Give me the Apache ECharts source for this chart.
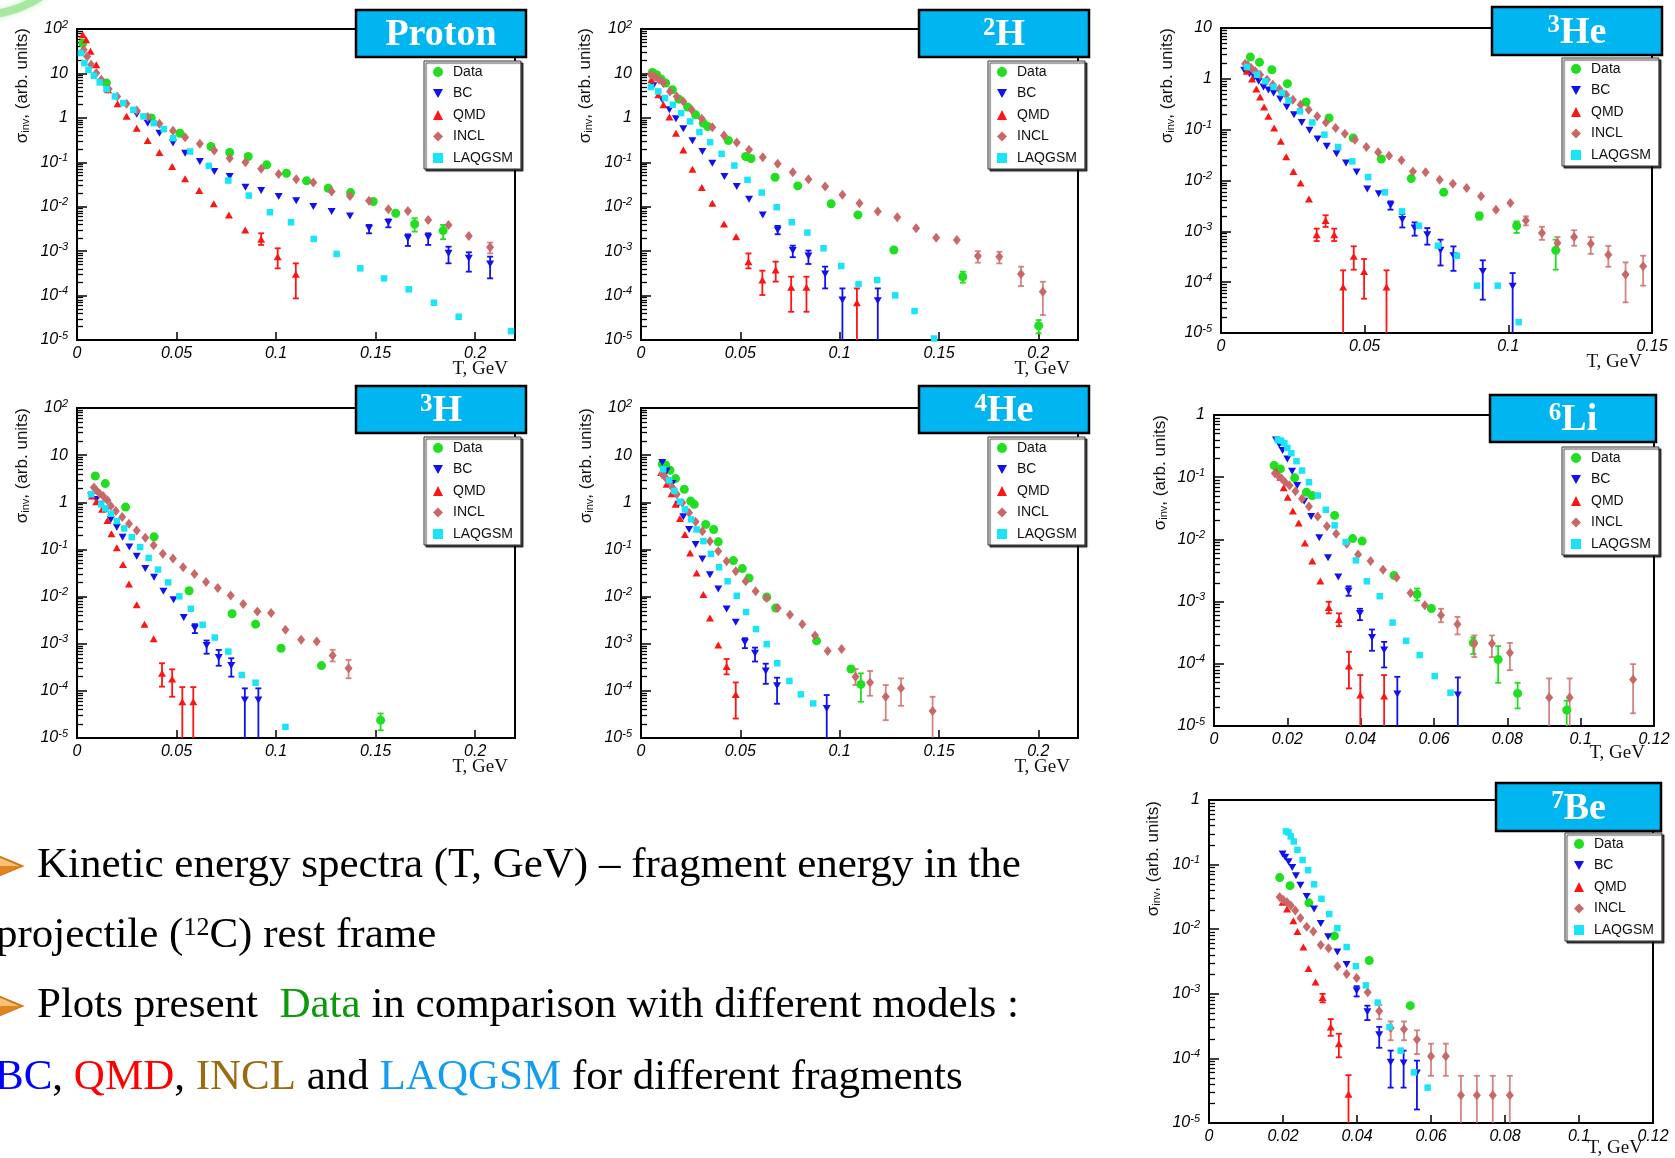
<!DOCTYPE html>
<html>
<head>
<meta charset="utf-8">
<script src="https://cdn.jsdelivr.net/npm/echarts@6/dist/echarts.min.js"></script>
<style>
  html, body { margin: 0; padding: 0; background: #ffffff; }
  #chart { width: 1675px; height: 1158px; }
</style>
</head>
<body>
<div id="chart"></div>
<script>
// Invariant cross sections vs kinetic energy T (GeV) of 12C fragments.
// Each point is [T, sigma]; each error entry is [T, lower, upper].

const SERIES_NAMES = ['Data', 'BC', 'QMD', 'INCL', 'LAQGSM'];

// ---- Proton ----
const PROTON_DATA = [[0.0029,48],[0.0148,6.1],[0.0373,0.99],[0.0517,0.45],[0.0673,0.226],[0.0767,0.166],[0.086,0.135],[0.0953,0.0875],[0.1052,0.0568],[0.1153,0.0382],[0.1262,0.0261],[0.1374,0.0208],[0.1488,0.0131],[0.1601,0.00713],[0.1696,0.00409],[0.1839,0.0029]];
const PROTON_DATA_ERR = [[0.1696,0.00275,0.0055],[0.1839,0.00185,0.00389]];
const PROTON_BC = [[0.03,1.21],[0.0355,0.76],[0.0414,0.45],[0.0482,0.27],[0.0543,0.16],[0.0617,0.104],[0.069,0.062],[0.0767,0.0478],[0.0846,0.0275],[0.0925,0.0231],[0.1013,0.0169],[0.1101,0.0137],[0.1187,0.0101],[0.1279,0.00777],[0.1371,0.0062],[0.1467,0.00327],[0.1564,0.00439],[0.1662,0.00195],[0.1764,0.00205],[0.1866,0.000894],[0.1968,0.00069],[0.2075,0.000514]];
const PROTON_BC_ERR = [[0.1467,0.00252,0.00389],[0.1564,0.00344,0.00521],[0.1662,0.00131,0.00239],[0.1764,0.00138,0.00252],[0.1866,0.000532,0.00126],[0.1968,0.000345,0.000942],[0.2075,0.000244,0.000752]];
const PROTON_QMD = [[0.0029,74.5],[0.0046,57.5],[0.0068,31.4],[0.0097,15.7],[0.0156,4.29],[0.0204,2.08],[0.0249,1.08],[0.03,0.587],[0.0355,0.31],[0.0414,0.166],[0.0478,0.0803],[0.0543,0.0424],[0.0614,0.0231],[0.0687,0.0116],[0.0763,0.00653],[0.0845,0.003],[0.0925,0.00185],[0.1008,0.000752],[0.1099,0.0003]];
const PROTON_QMD_ERR = [[0.0925,0.00138,0.00252],[0.1008,0.00041,0.00116],[0.1099,0.0000865,0.000532]];
const PROTON_INCL = [[0.0034,34.2],[0.0051,24.2],[0.0071,15.7],[0.0097,10.2],[0.0122,7.21],[0.0159,4.44],[0.0202,3.04],[0.0249,2.08],[0.03,1.47],[0.0355,1.04],[0.0414,0.734],[0.0482,0.511],[0.0543,0.368],[0.0617,0.26],[0.0689,0.184],[0.0767,0.124],[0.0846,0.1],[0.0925,0.0711],[0.1013,0.0548],[0.1101,0.0416],[0.1187,0.035],[0.1279,0.0219],[0.1371,0.0175],[0.1467,0.0137],[0.1564,0.00877],[0.1662,0.00804],[0.1764,0.00504],[0.1866,0.00389],[0.1968,0.0022],[0.2075,0.00122]];
const PROTON_INCL_ERR = [[0.2075,0.00089,0.00156]];
const PROTON_LAQGSM = [[0.002,28.8],[0.0037,17.1],[0.0058,12.1],[0.0085,8.87],[0.0114,6.28],[0.0148,4.44],[0.019,3.04],[0.0232,2.15],[0.0283,1.52],[0.0334,1.08],[0.0385,0.76],[0.0436,0.557],[0.0483,0.349],[0.0568,0.175],[0.0662,0.0832],[0.076,0.0388],[0.0863,0.0178],[0.0969,0.0075],[0.1075,0.00447],[0.1189,0.00188],[0.1304,0.000863],[0.1423,0.00041],[0.1542,0.000244],[0.1666,0.000138],[0.1793,0.000069],[0.1917,0.0000334],[0.218,0.0000158]];

// ---- 2H ----
const H2_DATA = [[0.0057,10.5],[0.0079,9.35],[0.0101,7.47],[0.0124,6.07],[0.0158,4.29],[0.0191,2.64],[0.0235,1.75],[0.0275,1.17],[0.0314,0.76],[0.0336,0.64],[0.044,0.31],[0.0527,0.135],[0.0554,0.122],[0.0675,0.0461],[0.0789,0.0294],[0.0957,0.0116],[0.1092,0.00653],[0.1273,0.00106],[0.162,0.000266],[0.2002,0.0000209]];
const H2_DATA_ERR = [[0.162,0.000195,0.000345],[0.2002,0.0000141,0.0000281]];
const H2_BC = [[0.0062,5.28],[0.0107,2.55],[0.0143,1.52],[0.0176,0.953],[0.0213,0.567],[0.0259,0.304],[0.0309,0.175],[0.0359,0.0955],[0.042,0.0478],[0.0482,0.0284],[0.0544,0.0147],[0.0613,0.00653],[0.0688,0.003],[0.0764,0.00103],[0.0843,0.000778],[0.0927,0.000305],[0.1014,0.0000793],[0.1192,0.0000766]];
const H2_BC_ERR = [[0.0688,0.0024,0.0037],[0.0764,0.00073,0.00133],[0.0843,0.000514,0.00103],[0.0927,0.000145,0.000448],[0.1014,0.000001,0.000145],[0.1192,0.000001,0.000145]];
const H2_QMD = [[0.0052,7.2],[0.0087,3.3],[0.0113,1.97],[0.0143,1.04],[0.0176,0.453],[0.0213,0.19],[0.0259,0.0698],[0.0306,0.027],[0.0359,0.012],[0.0418,0.00409],[0.0479,0.00212],[0.0541,0.00058],[0.0611,0.000224],[0.0678,0.000376],[0.0756,0.000153],[0.0833,0.000153],[0.1087,0.0000691]];
const H2_QMD_ERR = [[0.0541,0.00041,0.00089],[0.0611,0.000103,0.000363],[0.0678,0.000206,0.00058],[0.0756,0.0000432,0.000266],[0.0833,0.0000432,0.000266],[0.1087,0.000001,0.000145]];
const H2_INCL = [[0.005,9.35],[0.0071,8.28],[0.0091,7.21],[0.0113,6.07],[0.0146,3.94],[0.018,3.04],[0.0213,2.34],[0.0255,1.52],[0.0306,0.953],[0.0359,0.618],[0.0418,0.401],[0.0482,0.279],[0.0544,0.191],[0.0613,0.13],[0.0688,0.0923],[0.0764,0.0598],[0.0843,0.0416],[0.0927,0.0284],[0.1014,0.0185],[0.11,0.012],[0.1192,0.00777],[0.129,0.00579],[0.1385,0.00327],[0.1486,0.00201],[0.159,0.00179],[0.1696,0.000778],[0.1804,0.000752],[0.1913,0.000305],[0.2023,0.000122]];
const H2_INCL_ERR = [[0.1696,0.00055,0.001],[0.1804,0.00053,0.00097],[0.1913,0.000164,0.000448],[0.2023,0.0000364,0.000205]];
const H2_LAQGSM = [[0.005,4.93],[0.0087,3.94],[0.0121,2.79],[0.016,1.97],[0.0202,1.28],[0.0247,0.83],[0.0294,0.477],[0.0348,0.284],[0.0406,0.155],[0.047,0.0845],[0.0536,0.0402],[0.0608,0.0208],[0.0683,0.00973],[0.0759,0.00447],[0.0838,0.00261],[0.0919,0.00116],[0.1008,0.000463],[0.1095,0.000182],[0.1189,0.000224],[0.128,0.000101],[0.1377,0.0000448],[0.1476,0.0000108]];

// ---- 3He ----
const HE3_DATA = [[0.0102,2.69],[0.0134,2.11],[0.0177,1.51],[0.0231,0.803],[0.0296,0.35],[0.0376,0.17],[0.046,0.0686],[0.0558,0.0265],[0.0662,0.0109],[0.0775,0.00585],[0.0899,0.00203],[0.1029,0.00129],[0.1165,0.000423]];
const HE3_DATA_ERR = [[0.0899,0.0017,0.0023],[0.1029,0.00093,0.00157],[0.1165,0.000176,0.000686]];
const HE3_BC = [[0.0081,1.47],[0.0099,1.26],[0.0116,1.09],[0.0131,0.893],[0.0148,0.69],[0.0165,0.6],[0.0183,0.526],[0.0206,0.401],[0.0229,0.279],[0.0254,0.197],[0.0281,0.139],[0.0308,0.097],[0.0336,0.0655],[0.0368,0.047],[0.0402,0.0337],[0.0435,0.0221],[0.0472,0.0147],[0.0509,0.0068],[0.0549,0.0055],[0.059,0.00325],[0.0631,0.0017],[0.0674,0.00116],[0.0718,0.00086],[0.0764,0.000423],[0.0809,0.000332],[0.0911,0.000163],[0.1015,0.0000828]];
const HE3_BC_ERR = [[0.059,0.00267,0.00389],[0.0631,0.00119,0.00218],[0.0674,0.000822,0.0015],[0.0718,0.000547,0.00116],[0.0764,0.000213,0.000686],[0.0809,0.000167,0.000505],[0.0911,0.0000453,0.000269],[0.1015,0.000001,0.000151]];
const HE3_QMD = [[0.009,1.41],[0.0108,0.99],[0.0123,0.631],[0.0136,0.44],[0.015,0.28],[0.0165,0.183],[0.0185,0.108],[0.0208,0.0589],[0.0227,0.0292],[0.0252,0.0151],[0.0277,0.00893],[0.0306,0.00433],[0.0333,0.00086],[0.0364,0.00164],[0.0394,0.00086],[0.0425,0.0000803],[0.0462,0.000322],[0.0498,0.000163],[0.0576,0.0000803]];
const HE3_QMD_ERR = [[0.0333,0.000644,0.00113],[0.0364,0.00122,0.00207],[0.0394,0.000644,0.00113],[0.0425,0.000001,0.000171],[0.0462,0.000176,0.000507],[0.0498,0.0000473,0.000286],[0.0576,0.000001,0.000171]];
const HE3_INCL = [[0.0084,1.99],[0.0094,1.82],[0.0105,1.63],[0.0119,1.41],[0.0136,1.21],[0.016,0.964],[0.018,0.767],[0.0203,0.631],[0.0227,0.489],[0.025,0.389],[0.0277,0.31],[0.0305,0.247],[0.0335,0.183],[0.0365,0.139],[0.0399,0.108],[0.0431,0.0834],[0.0466,0.0635],[0.0506,0.0456],[0.0547,0.0358],[0.0585,0.0308],[0.0628,0.0249],[0.0668,0.0151],[0.0712,0.0145],[0.0761,0.0104],[0.0807,0.00867],[0.0855,0.00711],[0.0905,0.00489],[0.0957,0.00267],[0.1007,0.00361],[0.1061,0.00164],[0.1117,0.000927],[0.1171,0.000589],[0.1229,0.000774],[0.1287,0.000571],[0.1348,0.000348],[0.1408,0.000141],[0.1469,0.000205]];
const HE3_INCL_ERR = [[0.1061,0.00131,0.00197],[0.1117,0.000678,0.00123],[0.1171,0.000433,0.000773],[0.1229,0.00052,0.00105],[0.1287,0.000361,0.000773],[0.1348,0.000201,0.000519],[0.1408,0.0000401,0.000245],[0.1469,0.0000853,0.000332]];
const HE3_LAQGSM = [[0.009,1.71],[0.0125,1.21],[0.0154,0.893],[0.0183,0.69],[0.0212,0.526],[0.0235,0.378],[0.0275,0.23],[0.0318,0.139],[0.036,0.0798],[0.0408,0.0456],[0.0457,0.0238],[0.0512,0.0117],[0.057,0.00585],[0.063,0.00247],[0.0689,0.00129],[0.0755,0.000522],[0.0821,0.000332],[0.0891,0.0000853],[0.0963,0.0000853],[0.1036,0.0000164]];

// ---- 3H ----
const H3_DATA = [[0.0092,3.62],[0.0142,2.49],[0.0244,0.792],[0.0387,0.185],[0.0563,0.0133],[0.0779,0.00432],[0.0897,0.0026],[0.1025,0.0008],[0.1228,0.000343],[0.1525,0.0000239]];
const H3_DATA_ERR = [[0.1525,0.0000146,0.0000331]];
const H3_BC = [[0.0071,1.36],[0.0097,1.15],[0.0122,0.903],[0.0148,0.708],[0.017,0.434],[0.02,0.297],[0.0229,0.182],[0.0263,0.113],[0.03,0.0718],[0.0343,0.0392],[0.0387,0.0256],[0.0434,0.0129],[0.0485,0.00858],[0.0536,0.0036],[0.0592,0.00214],[0.0651,0.000914],[0.0712,0.000507],[0.0775,0.000343],[0.0843,0.0000637],[0.0911,0.0000637]];
const H3_BC_ERR = [[0.0592,0.00168,0.0026],[0.0651,0.000613,0.00117],[0.0712,0.000341,0.000736],[0.0775,0.0002,0.000491],[0.0843,0.000001,0.000113],[0.0911,0.000001,0.000113]];
const H3_QMD = [[0.0075,1.36],[0.0097,1.03],[0.0126,0.708],[0.0153,0.412],[0.0173,0.214],[0.02,0.108],[0.0231,0.0477],[0.0261,0.0185],[0.03,0.00671],[0.0339,0.0026],[0.0385,0.00127],[0.0427,0.000235],[0.0478,0.000178],[0.0529,0.0000587],[0.0584,0.0000587]];
const H3_QMD_ERR = [[0.0427,0.000123,0.000385],[0.0478,0.000075,0.000286],[0.0529,0.000001,0.00012],[0.0584,0.000001,0.00012]];
const H3_INCL = [[0.0085,2.05],[0.0097,1.8],[0.0114,1.52],[0.0131,1.36],[0.0153,1.1],[0.017,0.832],[0.0195,0.652],[0.0227,0.485],[0.0261,0.35],[0.03,0.252],[0.0343,0.176],[0.0385,0.123],[0.0431,0.0805],[0.0482,0.064],[0.0533,0.0419],[0.059,0.0302],[0.0648,0.0204],[0.0707,0.0152],[0.0772,0.0106],[0.0835,0.00694],[0.0906,0.00484],[0.0975,0.00446],[0.1047,0.00197],[0.1126,0.00121],[0.1204,0.00111],[0.1284,0.00056],[0.1364,0.0003]];
const H3_INCL_ERR = [[0.1284,0.000421,0.000745],[0.1364,0.000185,0.000453]];
const H3_LAQGSM = [[0.0071,1.48],[0.0122,0.903],[0.0142,0.743],[0.017,0.572],[0.02,0.399],[0.0237,0.279],[0.0275,0.182],[0.0317,0.112],[0.036,0.0661],[0.0407,0.0373],[0.0458,0.02],[0.0514,0.0101],[0.0572,0.00552],[0.0631,0.00252],[0.0692,0.00135],[0.076,0.000681],[0.0828,0.000217],[0.0897,0.000149],[0.1047,0.0000172]];

// ---- 4He ----
const HE4_DATA = [[0.0107,6.42],[0.0124,6.21],[0.0146,4.79],[0.0174,3.18],[0.0218,1.88],[0.025,1.06],[0.0268,0.904],[0.0326,0.339],[0.0366,0.265],[0.0389,0.145],[0.0465,0.058],[0.051,0.0392],[0.0544,0.0248],[0.0633,0.00977],[0.0678,0.0057],[0.0884,0.00115],[0.1057,0.000291],[0.1107,0.000137]];
const HE4_DATA_ERR = [[0.1107,0.0000587,0.000235]];
const HE4_BC = [[0.0107,6.97],[0.0129,4.63],[0.0158,2.49],[0.0188,0.904],[0.0213,0.493],[0.0242,0.265],[0.0275,0.127],[0.0309,0.063],[0.0347,0.0292],[0.0389,0.0145],[0.0431,0.00543],[0.0477,0.00287],[0.0523,0.00108],[0.0574,0.000628],[0.0628,0.000264],[0.0685,0.000129],[0.0935,0.0000424]];
const HE4_BC_ERR = [[0.0523,0.000806,0.00131],[0.0574,0.000419,0.000827],[0.0628,0.000141,0.000377],[0.0685,0.0000532,0.00019],[0.0935,0.000001,0.0000815]];
const HE4_QMD = [[0.0101,4.27],[0.0129,2.41],[0.0154,1.52],[0.0174,0.904],[0.0196,0.455],[0.0221,0.207],[0.0247,0.0845],[0.028,0.0317],[0.0314,0.011],[0.0347,0.00349],[0.0389,0.000944],[0.0431,0.000327],[0.0477,0.0000842]];
const HE4_QMD_ERR = [[0.0431,0.000224,0.000475],[0.0477,0.0000259,0.000151]];
const HE4_INCL = [[0.0107,3.93],[0.0121,3.45],[0.0141,2.75],[0.0158,2.05],[0.018,1.48],[0.0208,0.981],[0.0242,0.601],[0.0275,0.387],[0.0309,0.244],[0.0347,0.15],[0.0389,0.0916],[0.0431,0.0561],[0.0477,0.0344],[0.0527,0.0211],[0.0577,0.0129],[0.0633,0.00931],[0.0688,0.0057],[0.075,0.00411],[0.0812,0.0026],[0.0876,0.00149],[0.094,0.000703],[0.101,0.000776],[0.108,0.0002],[0.1153,0.000151],[0.1232,0.000075],[0.1309,0.000113],[0.1468,0.0000372]];
const HE4_INCL_ERR = [[0.108,0.000133,0.000291],[0.1153,0.0000787,0.000264],[0.1232,0.0000239,0.000133],[0.1309,0.0000482,0.000184],[0.1468,0.000001,0.000075]];
const HE4_LAQGSM = [[0.0112,5.03],[0.0141,2.93],[0.0168,1.74],[0.0196,1.03],[0.0221,0.708],[0.0252,0.434],[0.028,0.265],[0.0314,0.15],[0.0352,0.0805],[0.0393,0.0419],[0.0436,0.0211],[0.0482,0.0104],[0.0529,0.00469],[0.0579,0.00204],[0.0633,0.000976],[0.0686,0.000385],[0.0747,0.000162],[0.0805,0.0000842],[0.0867,0.0000541]];

// ---- 6Li ----
const LI6_DATA = [[0.0164,0.154],[0.0181,0.136],[0.022,0.0976],[0.0252,0.0574],[0.0268,0.0508],[0.0329,0.0243],[0.0378,0.0103],[0.0404,0.0094],[0.0491,0.00264],[0.0554,0.00131],[0.0593,0.000773],[0.0707,0.000217],[0.0775,0.000117],[0.0828,0.0000334],[0.0962,0.0000181]];
const LI6_DATA_ERR = [[0.0554,0.00104,0.00162],[0.0707,0.000144,0.000265],[0.0775,0.0000495,0.000192],[0.0828,0.0000192,0.0000495],[0.0962,0.000001,0.0000255]];
const LI6_BC = [[0.0169,0.397],[0.0178,0.334],[0.0187,0.268],[0.02,0.197],[0.0213,0.125],[0.0227,0.0735],[0.0246,0.0412],[0.0265,0.0234],[0.0287,0.0106],[0.0311,0.00508],[0.0339,0.00249],[0.0367,0.00148],[0.0398,0.000642],[0.0431,0.000264],[0.0464,0.000166],[0.05,0.0000326],[0.0665,0.0000314]];
const LI6_BC_ERR = [[0.0367,0.00124,0.00176],[0.0398,0.000503,0.000767],[0.0431,0.000162,0.000356],[0.0464,0.0000873,0.000225],[0.05,0.000001,0.0000618],[0.0665,0.000001,0.0000604]];
const LI6_QMD = [[0.0169,0.125],[0.0181,0.1],[0.019,0.0675],[0.0201,0.0478],[0.0215,0.0285],[0.0231,0.0183],[0.0248,0.00873],[0.0268,0.00449],[0.029,0.00215],[0.0313,0.000802],[0.0341,0.000514],[0.0368,0.0000918],[0.0399,0.0000314],[0.0464,0.0000303]];
const LI6_QMD_ERR = [[0.0313,0.000647,0.000995],[0.0341,0.000402,0.000647],[0.0368,0.0000402,0.000156],[0.0399,0.000001,0.0000658],[0.0464,0.000001,0.0000658]];
const LI6_INCL = [[0.0166,0.116],[0.0175,0.106],[0.0185,0.094],[0.0194,0.0831],[0.0206,0.0735],[0.0222,0.0596],[0.024,0.0449],[0.0259,0.0338],[0.0283,0.0234],[0.0308,0.0162],[0.0333,0.0123],[0.0362,0.00851],[0.0393,0.00574],[0.0427,0.00449],[0.0461,0.00326],[0.0498,0.00243],[0.0536,0.00138],[0.0575,0.000873],[0.0619,0.000604],[0.0664,0.000433],[0.071,0.000212],[0.0758,0.000212],[0.0807,0.00015],[0.0914,0.0000288],[0.097,0.0000288],[0.1143,0.0000561]];
const LI6_INCL_ERR = [[0.0619,0.000465,0.000767],[0.0664,0.000297,0.000568],[0.071,0.000128,0.000286],[0.0758,0.000128,0.000286],[0.0807,0.0000791,0.000217],[0.0914,0.000001,0.0000582],[0.097,0.000001,0.0000582],[0.1143,0.000016,0.0000988]];
const LI6_LAQGSM = [[0.0174,0.397],[0.0183,0.388],[0.0192,0.351],[0.02,0.296],[0.0211,0.243],[0.0225,0.181],[0.024,0.128],[0.0259,0.0831],[0.0283,0.0508],[0.0305,0.0299],[0.0329,0.0168],[0.0359,0.00906],[0.0387,0.0046],[0.0417,0.00212],[0.0452,0.00122],[0.0487,0.00046],[0.0524,0.000234],[0.0561,0.000138],[0.0602,0.0000634],[0.0645,0.0000343]];

// ---- 7Be ----
const BE7_DATA = [[0.0191,0.063],[0.0219,0.0472],[0.027,0.0256],[0.0339,0.00788],[0.0433,0.00328],[0.0544,0.000655]];
const BE7_BC = [[0.0199,0.146],[0.0206,0.13],[0.0215,0.111],[0.0225,0.0904],[0.0235,0.067],[0.0247,0.0478],[0.0264,0.0322],[0.0284,0.0206],[0.0302,0.0123],[0.0322,0.00761],[0.0347,0.00443],[0.0372,0.00284],[0.0399,0.00111],[0.0428,0.000527],[0.046,0.000233],[0.0491,0.0000869],[0.0526,0.0000849],[0.0562,0.0000592]];
const BE7_BC_ERR = [[0.0399,0.00091,0.00131],[0.0428,0.000392,0.000655],[0.046,0.000146,0.000308],[0.0491,0.0000353,0.000132],[0.0526,0.0000353,0.000132],[0.0562,0.0000162,0.0000924]];
const BE7_QMD = [[0.0199,0.0262],[0.0211,0.0206],[0.0228,0.0135],[0.0239,0.00922],[0.0255,0.0053],[0.0269,0.00246],[0.0288,0.00152],[0.0307,0.000875],[0.0329,0.000307],[0.0351,0.000168],[0.0377,0.0000278]];
const BE7_QMD_ERR = [[0.0307,0.000737,0.000997],[0.0329,0.000224,0.000406],[0.0351,0.000104,0.000241],[0.0377,0.000001,0.0000551]];
const BE7_INCL = [[0.0191,0.0314],[0.02,0.0285],[0.0211,0.0262],[0.0221,0.0232],[0.0233,0.0194],[0.0247,0.0149],[0.0264,0.0109],[0.0282,0.00922],[0.0302,0.0057],[0.0323,0.00506],[0.0347,0.00267],[0.0372,0.00203],[0.0399,0.00175],[0.0429,0.00106],[0.046,0.00054],[0.0491,0.000296],[0.0527,0.000283],[0.0562,0.000197],[0.06,0.000108],[0.064,0.000108],[0.0681,0.0000268],[0.0724,0.0000268],[0.0767,0.0000268],[0.0813,0.0000268]];
const BE7_INCL_ERR = [[0.046,0.000406,0.000669],[0.0491,0.000191,0.000373],[0.0527,0.000191,0.000373],[0.0562,0.000117,0.000272],[0.06,0.0000538,0.000169],[0.064,0.0000538,0.000169],[0.0681,0.000001,0.0000538],[0.0724,0.000001,0.0000538],[0.0767,0.000001,0.0000538],[0.0813,0.000001,0.0000538]];
const BE7_LAQGSM = [[0.0208,0.327],[0.0215,0.315],[0.0221,0.273],[0.0229,0.228],[0.0239,0.169],[0.0253,0.118],[0.0268,0.082],[0.0284,0.0495],[0.0304,0.0296],[0.0325,0.0172],[0.0347,0.0104],[0.0372,0.0053],[0.0397,0.00267],[0.0424,0.00135],[0.0456,0.00073],[0.0488,0.000307],[0.0518,0.000132],[0.0554,0.0000607],[0.0591,0.0000353]];

// ---- marker styles ----
const MARK = {
  Data:   { symbol: 'circle', size: 9, color: '#1fdf1f' },
  BC:     { symbol: 'path://M0,0L10,0L5,9Z', size: [8, 7], color: '#1010f0' },
  QMD:    { symbol: 'triangle', size: [8, 7], color: '#ff1414' },
  INCL:   { symbol: 'diamond', size: [8, 10], color: '#c96868' },
  LAQGSM: { symbol: 'rect', size: 6.5, color: '#18e6f8' }
};

const SANS = 'Liberation Sans, Arial, Helvetica, sans-serif';
const SERIF = 'Liberation Serif, Times New Roman, serif';

// ---- panel layout ----
const PANELS = [
  { sup: '', el: 'Proton', grid: [77, 29, 438, 311], xMax: 0.22, xStep: 0.05, showMax: false, yExp: [-5, 2],
    box: [356, 10, 170, 47], legend: [424, 61], yName: [22, 28], xName: [508, 369],
    pts: { Data: PROTON_DATA, BC: PROTON_BC, QMD: PROTON_QMD, INCL: PROTON_INCL, LAQGSM: PROTON_LAQGSM },
    err: { Data: PROTON_DATA_ERR, BC: PROTON_BC_ERR, QMD: PROTON_QMD_ERR, INCL: PROTON_INCL_ERR } },
  { sup: '2', el: 'H', grid: [641, 29, 437, 311], xMax: 0.22, xStep: 0.05, showMax: false, yExp: [-5, 2],
    box: [919, 10, 170, 47], legend: [988, 61], yName: [585, 28], xName: [1070, 369],
    pts: { Data: H2_DATA, BC: H2_BC, QMD: H2_QMD, INCL: H2_INCL, LAQGSM: H2_LAQGSM },
    err: { Data: H2_DATA_ERR, BC: H2_BC_ERR, QMD: H2_QMD_ERR, INCL: H2_INCL_ERR } },
  { sup: '3', el: 'He', grid: [1221, 28, 431, 305], xMax: 0.15, xStep: 0.05, showMax: true, yExp: [-5, 1],
    box: [1492, 7, 170, 48], legend: [1562, 58], yName: [1167, 28], xName: [1642, 362],
    pts: { Data: HE3_DATA, BC: HE3_BC, QMD: HE3_QMD, INCL: HE3_INCL, LAQGSM: HE3_LAQGSM },
    err: { Data: HE3_DATA_ERR, BC: HE3_BC_ERR, QMD: HE3_QMD_ERR, INCL: HE3_INCL_ERR } },
  { sup: '3', el: 'H', grid: [77, 408, 438, 330], xMax: 0.22, xStep: 0.05, showMax: false, yExp: [-5, 2],
    box: [356, 386, 170, 47], legend: [424, 437], yName: [22, 408], xName: [508, 767],
    pts: { Data: H3_DATA, BC: H3_BC, QMD: H3_QMD, INCL: H3_INCL, LAQGSM: H3_LAQGSM },
    err: { Data: H3_DATA_ERR, BC: H3_BC_ERR, QMD: H3_QMD_ERR, INCL: H3_INCL_ERR } },
  { sup: '4', el: 'He', grid: [641, 408, 437, 330], xMax: 0.22, xStep: 0.05, showMax: false, yExp: [-5, 2],
    box: [919, 386, 170, 47], legend: [988, 437], yName: [586, 408], xName: [1070, 767],
    pts: { Data: HE4_DATA, BC: HE4_BC, QMD: HE4_QMD, INCL: HE4_INCL, LAQGSM: HE4_LAQGSM },
    err: { Data: HE4_DATA_ERR, BC: HE4_BC_ERR, QMD: HE4_QMD_ERR, INCL: HE4_INCL_ERR } },
  { sup: '6', el: 'Li', grid: [1214, 415, 440, 311], xMax: 0.12, xStep: 0.02, showMax: true, yExp: [-5, 0],
    box: [1490, 395, 166, 47], legend: [1562, 447], yName: [1160, 415], xName: [1645, 753],
    pts: { Data: LI6_DATA, BC: LI6_BC, QMD: LI6_QMD, INCL: LI6_INCL, LAQGSM: LI6_LAQGSM },
    err: { Data: LI6_DATA_ERR, BC: LI6_BC_ERR, QMD: LI6_QMD_ERR, INCL: LI6_INCL_ERR } },
  { sup: '7', el: 'Be', grid: [1209, 800, 444, 323], xMax: 0.12, xStep: 0.02, showMax: true, yExp: [-5, 0],
    box: [1496, 783, 165, 48], legend: [1565, 833], yName: [1153, 801], xName: [1643, 1148],
    pts: { Data: BE7_DATA, BC: BE7_BC, QMD: BE7_QMD, INCL: BE7_INCL, LAQGSM: BE7_LAQGSM },
    err: { BC: BE7_BC_ERR, QMD: BE7_QMD_ERR, INCL: BE7_INCL_ERR } }
];

// decade label: 10^n drawn with a raised exponent
function decadeLabel(v) {
  const n = Math.round(v);
  if (n === 0) return '{b|1}';
  if (n === 1) return '{b|10}';
  return '{b|10}{s|' + n + '}';
}
// positions of 2..9 x 10^n, in decades
function minorDecades(lo, hi) {
  const out = [];
  for (let n = lo; n < hi; n++) for (let k = 2; k <= 9; k++) out.push(n + Math.log10(k));
  return out;
}

function errorBars(name, data, gi, yLo, yHi) {
  const color = MARK[name].color;
  const opacity = name === 'INCL' ? 0.8 : 1;
  return {
    type: 'custom', name: name, xAxisIndex: gi, yAxisIndex: gi * 3, data: data, z: 2, silent: true,
    encode: { x: 0, y: [1, 2] },
    renderItem: function (params, api) {
      const t = api.value(0), lo = api.value(1), up = api.value(2);
      const a = api.coord([t, Math.min(up, yHi)]);
      const b = api.coord([t, Math.max(lo, yLo)]);
      const st = { stroke: color, lineWidth: 1.8, opacity: opacity };
      const kids = [{ type: 'line', shape: { x1: a[0], y1: a[1], x2: b[0], y2: b[1] }, style: st }];
      if (up < yHi) kids.push({ type: 'line', shape: { x1: a[0] - 3, y1: a[1], x2: a[0] + 3, y2: a[1] }, style: st });
      if (lo > yLo) kids.push({ type: 'line', shape: { x1: b[0] - 3, y1: b[1], x2: b[0] + 3, y2: b[1] }, style: st });
      return { type: 'group', children: kids };
    }
  };
}

const grid = [], xAxis = [], yAxis = [], series = [], legend = [], graphic = [];

PANELS.forEach(function (p, i) {
  const lo = p.yExp[0], hi = p.yExp[1];
  const yLo = Math.pow(10, lo), yHi = Math.pow(10, hi);

  grid.push({ left: p.grid[0], top: p.grid[1], width: p.grid[2], height: p.grid[3],
    show: true, borderColor: '#000', borderWidth: 2, backgroundColor: 'transparent' });

  xAxis.push({ type: 'value', gridIndex: i, position: 'bottom', min: 0, max: p.xMax, interval: p.xStep,
    axisLine: { show: true, onZero: false, lineStyle: { color: '#000', width: 2 } },
    axisTick: { inside: true, length: 8, lineStyle: { color: '#000', width: 1.5 } },
    axisLabel: { margin: 6, fontSize: 16, fontStyle: 'italic', fontFamily: SANS, color: '#000',
      showMaxLabel: p.showMax, showMinLabel: true },
    splitLine: { show: false } });

  // data axis (log scale)
  yAxis.push({ type: 'log', logBase: 10, gridIndex: i, position: 'left', min: yLo, max: yHi, show: false,
    axisLabel: { show: false }, axisTick: { show: false }, axisLine: { show: false, onZero: false }, splitLine: { show: false } });
  // decades: major ticks and labels
  yAxis.push({ type: 'value', gridIndex: i, position: 'left', offset: 0, min: lo, max: hi, interval: 1,
    axisLine: { show: true, onZero: false, lineStyle: { color: '#000', width: 2 } },
    axisTick: { inside: true, length: 10, lineStyle: { color: '#000', width: 1.5 } },
    axisLabel: { margin: 9, formatter: decadeLabel,
      rich: {
        b: { fontSize: 16, fontStyle: 'italic', fontFamily: SANS, color: '#000' },
        s: { fontSize: 11, fontStyle: 'italic', fontFamily: SANS, color: '#000', padding: [0, 0, 9, 0] }
      } },
    splitLine: { show: false } });
  // sub-decade ticks
  yAxis.push({ type: 'value', gridIndex: i, position: 'left', offset: 0, min: lo, max: hi,
    axisLine: { show: false, onZero: false }, axisLabel: { show: false }, splitLine: { show: false },
    axisTick: { inside: true, length: 6, customValues: minorDecades(lo, hi), lineStyle: { color: '#000', width: 1.3 } } });

  SERIES_NAMES.forEach(function (name) {
    const m = MARK[name];
    series.push({ type: 'scatter', name: name, xAxisIndex: i, yAxisIndex: i * 3, data: p.pts[name],
      symbol: m.symbol, symbolSize: m.size, itemStyle: { color: m.color, opacity: 1 }, z: 3, silent: true });
  });
  SERIES_NAMES.forEach(function (name) {
    if (p.err[name]) series.push(errorBars(name, p.err[name], i, yLo, yHi));
  });

  legend.push({ orient: 'vertical', left: p.legend[0], top: p.legend[1], data: SERIES_NAMES,
    selectedMode: false, itemWidth: 10, itemHeight: 10, itemGap: 7.5,
    padding: [4, 8, 4, 9], backgroundColor: '#ffffff', borderColor: '#333', borderWidth: 1,
    shadowColor: 'rgba(0,0,0,0.75)', shadowOffsetX: 2, shadowOffsetY: 2, shadowBlur: 1,
    textStyle: { fontSize: 14, fontFamily: SANS, color: '#111', lineHeight: 14, padding: [0, 0, 0, 5] }, z: 20 });

  // element box
  graphic.push({ type: 'rect', z: 50, shape: { x: p.box[0], y: p.box[1], width: p.box[2], height: p.box[3] },
    style: { fill: '#00b5f0', stroke: '#000', lineWidth: 2.5 } });
  graphic.push({ type: 'text', z: 51, x: p.box[0] + p.box[2] / 2, y: p.box[1] + p.box[3] / 2 + 2,
    style: { text: (p.sup ? '{s|' + p.sup + '}' : '') + '{b|' + p.el + '}', align: 'center', verticalAlign: 'middle',
      rich: {
        b: { fontSize: 38, fontWeight: 'bold', fontFamily: SERIF, fill: '#ffffff' },
        s: { fontSize: 25, fontWeight: 'bold', fontFamily: SERIF, fill: '#ffffff', padding: [0, 0, 14, 0] }
      } } });

  // axis titles
  graphic.push({ type: 'text', z: 10, x: p.yName[0], y: p.yName[1], rotation: Math.PI / 2,
    style: { text: '{a|σ}{i|inv}{a|, (arb. units)}', align: 'right', verticalAlign: 'middle',
      rich: {
        a: { fontSize: 17, fontFamily: SANS, fill: '#111' },
        i: { fontSize: 11, fontFamily: SANS, fill: '#111', padding: [8, 0, 0, 0] }
      } } });
  graphic.push({ type: 'text', z: 10, x: p.xName[0], y: p.xName[1],
    style: { text: 'T, GeV', align: 'right', verticalAlign: 'middle', fontSize: 19, fontFamily: SERIF, fill: '#111' } });
});

// slide corner ornament
graphic.push({ type: 'circle', z: 1, shape: { cx: -20, cy: -95, r: 110 },
  style: { fill: 'none', stroke: '#a6e8a0', lineWidth: 8, shadowBlur: 6, shadowColor: '#c8f2c4' } });

// bullet arrowheads of the caption
function bullet(cy) {
  return { type: 'group', z: 10, x: 0, y: cy, children: [
    { type: 'polygon', shape: { points: [[-9, -13], [22, 0], [-9, 13], [-1, 0]] },
      style: { fill: '#f6c27a', stroke: '#d27512', lineWidth: 2 } },
    { type: 'polygon', shape: { points: [[-1, 0], [22, 0], [-9, 13]] },
      style: { fill: '#de8420' } }
  ] };
}
graphic.push(bullet(866));
graphic.push(bullet(1006));

// caption lines
const TXT = { fontSize: 43, fontFamily: SERIF, fill: '#000' };
function tok(c) { return Object.assign({}, TXT, { fill: c }); }
graphic.push({ type: 'text', z: 10, x: 37, y: 866, style: { text: '{t|Kinetic energy spectra (T, GeV) – fragment energy in the}', verticalAlign: 'middle', rich: { t: tok('#000') } } });
graphic.push({ type: 'text', z: 10, x: -4, y: 936, style: { text: '{t|projectile (}{s|12}{t|C) rest frame}', verticalAlign: 'middle',
  rich: { t: tok('#000'), s: Object.assign({}, TXT, { fontSize: 26, padding: [0, 0, 16, 0] }) } } });
graphic.push({ type: 'text', z: 10, x: 37, y: 1006, style: { text: '{t|Plots present  }{g|Data}{t| in comparison with different models :}', verticalAlign: 'middle',
  rich: { t: tok('#000'), g: tok('#0a9a0a') } } });
graphic.push({ type: 'text', z: 10, x: -5, y: 1078, style: { text: '{b|BC}{t|, }{q|QMD}{t|, }{i|INCL}{t| and }{l|LAQGSM}{t| for different fragments}', verticalAlign: 'middle',
  rich: { t: tok('#000'), b: tok('#0000ff'), q: tok('#ff0000'), i: tok('#9c6a10'), l: tok('#139cf0') } } });

const chart = echarts.init(document.getElementById('chart'), null, { renderer: 'canvas', width: 1675, height: 1158 });
chart.setOption({
  animation: false,
  backgroundColor: '#ffffff',
  grid: grid, xAxis: xAxis, yAxis: yAxis, legend: legend, series: series, graphic: graphic
});
</script>
</body>
</html>
